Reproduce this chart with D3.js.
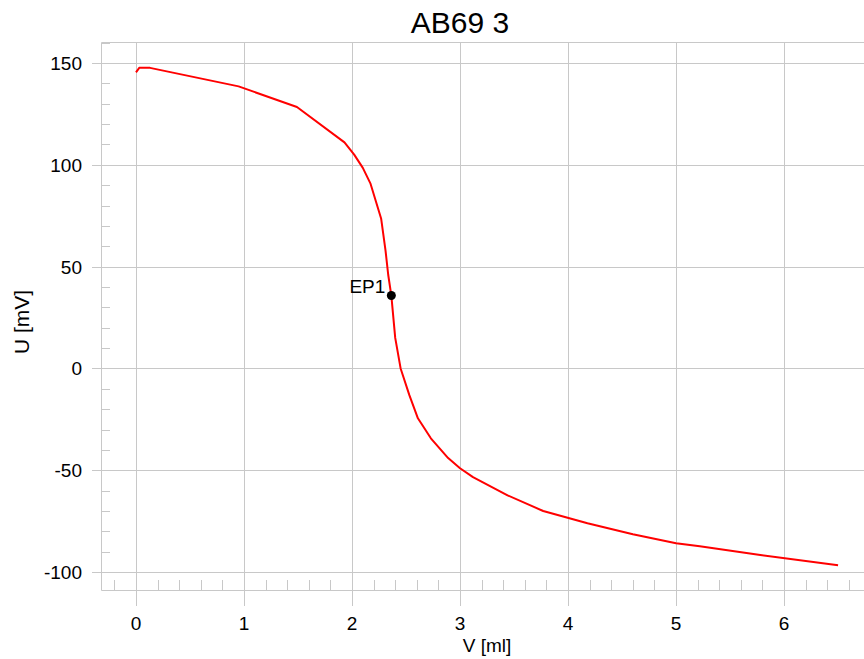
<!DOCTYPE html>
<html>
<head>
<meta charset="utf-8">
<script src="https://cdn.jsdelivr.net/npm/d3@7"></script>
<style>
  html, body { margin: 0; padding: 0; background: #fff; }
  svg { display: block; font-family: "Liberation Sans", Arial, sans-serif; }
</style>
</head>
<body>
<div id="chart"></div>
<script>
const title = 'AB69 3';
const xLabel = 'V [ml]';
const yLabel = 'U [mV]';

// titration curve
const volume = [0, 0.03, 0.13, 0.95, 1.49, 1.93, 2.02, 2.1, 2.17, 2.27, 2.31, 2.335, 2.364, 2.40, 2.45,
  2.53, 2.61, 2.73, 2.89, 3.0, 3.12, 3.44, 3.77, 4.18, 4.6, 5.0, 5.22, 5.78, 6.5];
const potential = [145.4, 147.6, 147.6, 138.5, 128.4, 111, 105, 98.5, 90.9, 73.5, 58, 46, 35.8, 15, 0,
  -13, -24.5, -34.3, -44, -49, -53.4, -62.3, -70, -76, -81.4, -85.8, -87.3, -91.6, -96.6];

const endpoints = [{ name: 'EP1', v: 2.364, u: 35.8 }];

const xTicks = [0, 1, 2, 3, 4, 5, 6];
const yTicks = [-100, -50, 0, 50, 100, 150];

const width = 864;
const height = 659;
const frame = { left: 101, top: 42, right: 864, bottom: 590 };
const grid = '#c8c8c8';

const x = d3.scaleLinear().domain([-0.324, 6.74]).range([frame.left, frame.right]);
const y = d3.scaleLinear().domain([-108.8, 160.3]).range([frame.bottom, frame.top]);

const svg = d3.select('#chart').append('svg')
  .attr('width', width)
  .attr('height', height);

// minor ticks
const xMinor = d3.range(-0.2, 6.75, 0.2).filter(d => Math.abs(d - Math.round(d)) > 1e-6);
const yMinor = d3.range(-100, 161, 10).filter(d => d % 50 !== 0);

svg.append('g')
  .selectAll('line')
  .data(xMinor)
  .enter().append('line')
    .attr('x1', d => Math.round(x(d)) + 0.5)
    .attr('x2', d => Math.round(x(d)) + 0.5)
    .attr('y1', frame.bottom)
    .attr('y2', frame.bottom - 10)
    .attr('stroke', grid);

svg.append('g')
  .selectAll('line')
  .data(yMinor)
  .enter().append('line')
    .attr('y1', d => Math.round(y(d)) + 0.5)
    .attr('y2', d => Math.round(y(d)) + 0.5)
    .attr('x1', frame.left)
    .attr('x2', frame.left + 9)
    .attr('stroke', grid);

// grid lines
svg.append('g')
  .selectAll('line')
  .data(xTicks)
  .enter().append('line')
    .attr('x1', d => Math.round(x(d)) + 0.5)
    .attr('x2', d => Math.round(x(d)) + 0.5)
    .attr('y1', frame.top)
    .attr('y2', frame.bottom + 16)
    .attr('stroke', grid);

svg.append('g')
  .selectAll('line')
  .data(yTicks)
  .enter().append('line')
    .attr('y1', d => Math.round(y(d)) + 0.5)
    .attr('y2', d => Math.round(y(d)) + 0.5)
    .attr('x1', frame.left - 9)
    .attr('x2', frame.right)
    .attr('stroke', grid);

// frame
svg.append('path')
  .attr('d', `M${frame.right},${frame.top + 0.5}H${frame.left + 0.5}V${frame.bottom + 0.5}H${frame.right}`)
  .attr('fill', 'none')
  .attr('stroke', grid);

// tick labels
svg.append('g')
  .selectAll('text')
  .data(xTicks)
  .enter().append('text')
    .attr('x', d => x(d))
    .attr('y', 630)
    .attr('text-anchor', 'middle')
    .attr('font-size', 19)
    .text(d => d);

svg.append('g')
  .selectAll('text')
  .data(yTicks)
  .enter().append('text')
    .attr('x', 82)
    .attr('y', d => y(d) + 7)
    .attr('text-anchor', 'end')
    .attr('font-size', 19)
    .text(d => d);

// titles
svg.append('text')
  .attr('x', 460)
  .attr('y', 33)
  .attr('text-anchor', 'middle')
  .attr('font-size', 30)
  .text(title);

svg.append('text')
  .attr('x', 487)
  .attr('y', 652)
  .attr('text-anchor', 'middle')
  .attr('font-size', 19)
  .text(xLabel);

svg.append('text')
  .attr('transform', 'translate(29,322) rotate(-90)')
  .attr('text-anchor', 'middle')
  .attr('font-size', 21)
  .text(yLabel);

// curve
const data = volume.map((v, i) => ({ v: v, u: potential[i] }));
const line = d3.line().x(d => x(d.v)).y(d => y(d.u));

svg.append('path')
  .datum(data)
  .attr('d', line)
  .attr('fill', 'none')
  .attr('stroke', '#ff0000')
  .attr('stroke-width', 2)
  .attr('stroke-linejoin', 'round');

// endpoint
const ep = svg.append('g')
  .selectAll('g')
  .data(endpoints)
  .enter().append('g');

ep.append('circle')
  .attr('cx', d => x(d.v))
  .attr('cy', d => y(d.u))
  .attr('r', 4.5)
  .attr('fill', '#000');

ep.append('text')
  .attr('x', d => x(d.v) - 6)
  .attr('y', d => y(d.u) - 3)
  .attr('text-anchor', 'end')
  .attr('font-size', 19)
  .text(d => d.name);
</script>
</body>
</html>
